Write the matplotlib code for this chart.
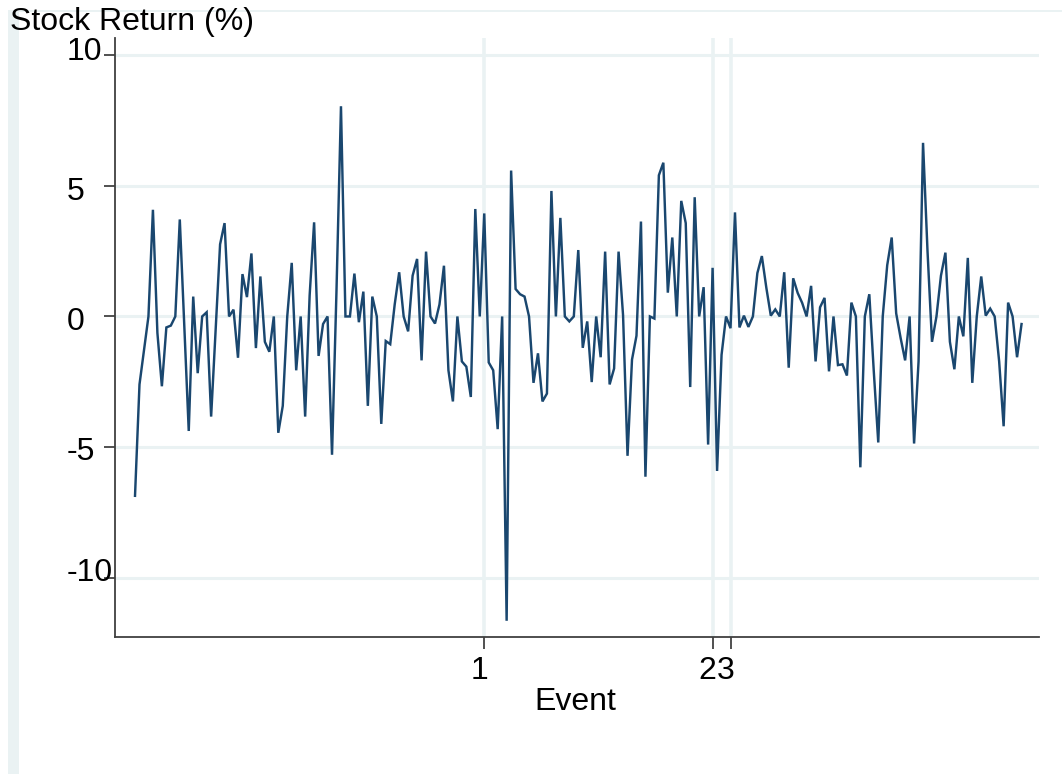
import matplotlib
matplotlib.use("Agg")
import matplotlib.pyplot as plt
import matplotlib.transforms as mtransforms
from matplotlib.patches import Rectangle
import numpy as np

# ---------------- data ----------------
returns = [
    -6.86, -2.6, -1.3, 0, 4.08, -0.63, -2.67, -0.42, -0.35, 0,
    3.71, -0.3, -4.38, 0.76, -2.17, 0, 0.16, -3.83, -0.5, 2.76,
    3.57, 0, 0.26, -1.58, 1.62, 0.74, 2.41, -1.21, 1.53, -0.97,
    -1.35, 0, -4.45, -3.42, 0, 2.05, -2.06, 0, -3.83, 0.8,
    3.6, -1.51, -0.29, 0, -5.29, 1.0, 8.04, 0, 0, 1.64,
    -0.22, 0.95, -3.42, 0.76, 0, -4.11, -0.94, -1.06, 0.46, 1.69,
    0, -0.57, 1.56, 2.2, -1.68, 2.48, 0, -0.27, 0.46, 1.94,
    -2.06, -3.25, 0, -1.72, -1.92, -3.08, 4.11, 0, 3.94, -1.76,
    -2.06, -4.31, 0, -11.64, 5.58, 1.05, 0.85, 0.76, 0, -2.54,
    -1.41, -3.25, -2.95, 4.8, 0, 3.77, 0, -0.19, 0, 2.54,
    -1.2, -0.19, -2.51, 0, -1.56, 2.48, -2.6, -1.99, 2.48, 0.05,
    -5.33, -1.65, -0.74, 3.63, -6.13, 0, -0.08, 5.4, 5.88, 0.91,
    3.02, 0, 4.42, 3.57, -2.7, 4.56, 0, 1.12, -4.9, 1.86,
    -5.91, -1.47, 0, -0.45, 3.98, -0.42, 0.03, -0.4, 0, 1.66,
    2.31, 1.1, 0.03, 0.27, 0, 1.69, -1.96, 1.46, 0.9, 0.52,
    0, 1.17, -1.72, 0.35, 0.71, -2.1, 0, -1.86, -1.83, -2.26,
    0.53, 0, -5.77, 0, 0.85, -2.1, -4.82, 0, 1.96, 3.02,
    0.12, -0.83, -1.68, 0, -4.86, -1.72, 6.64, 2.5, -0.97, 0,
    1.56, 2.44, -0.97, -2.02, 0, -0.76, 2.24, -2.54, 0, 1.53,
    0.03, 0.3, 0, -1.72, -4.2, 0.53, 0, -1.56, -0.29,
]
days = list(range(len(returns)))
event_days = [78, 129, 133]
event_labels = ["1", "2", "3"]
y_ticks = [10, 5, 0, -5, -10]
y_tick_labels = ["10", "5", "0", "-5", "-10"]
y_title = "Stock Return (%)"
x_title = "Event"

# ---------------- style ----------------
W, H = 1062, 774
LINE = "#1a476f"
GRID = "#eaf2f3"
AXC = "#404040"
FONT = "Liberation Sans"
FS = 23

plt.rcParams["font.family"] = [FONT, "DejaVu Sans"]

fig = plt.figure(figsize=(W / 100, H / 100), dpi=100)
fig.patch.set_facecolor("white")

# outer light frame (left strip and top line)
fig.patches.append(Rectangle((8 / W, 0), 11 / W, (H - 10) / H,
                             transform=fig.transFigure, facecolor=GRID,
                             edgecolor="none", zorder=0))
fig.patches.append(Rectangle((8 / W, (H - 12) / H), (W - 8) / W, 2 / H,
                             transform=fig.transFigure, facecolor=GRID,
                             edgecolor="none", zorder=0))

left, right, top, bottom = 115, 1039, 38, 637
ax = fig.add_axes([left / W, (H - bottom) / H, (right - left) / W, (bottom - top) / H])
ax.set_facecolor("none")

ax.set_xlim(-4.47, 201.9)
ax.set_ylim(-12.26, 10.65)

for v in y_ticks:
    ax.axhline(v, color=GRID, lw=2.2, zorder=1)
for d in event_days:
    ax.axvline(d, color=GRID, lw=2.6, zorder=1)

ax.plot(days, returns, color=LINE, lw=1.75, zorder=3, solid_joinstyle="miter")

for s in ["top", "right"]:
    ax.spines[s].set_visible(False)
for s in ["left", "bottom"]:
    ax.spines[s].set_color(AXC)
    ax.spines[s].set_linewidth(1.3)

# y ticks: marks only, labels drawn manually (left aligned like the reference)
ax.set_yticks(y_ticks)
ax.set_yticklabels([])
ax.tick_params(axis="y", direction="out", length=8, width=1.1, color="#202020")
y_label_offsets = {"10": 5, "5": 14, "0": 14, "-5": 13, "-10": 3}
for v, lab in zip(y_ticks, y_tick_labels):
    tr = mtransforms.blended_transform_factory(fig.transFigure, ax.transData)
    off = mtransforms.ScaledTranslation(0, -y_label_offsets[lab] / 100, fig.dpi_scale_trans)
    ax.text(67 / W, v, lab, transform=tr + off, ha="left", va="baseline",
            fontsize=FS, color="black", clip_on=False)

# x ticks
ax.set_xticks(event_days)
ax.set_xticklabels(event_labels, fontsize=FS)
ax.tick_params(axis="x", direction="out", length=8.5, width=1.1, color="#202020", pad=5)
shift = mtransforms.ScaledTranslation(-5 / 100, 0, fig.dpi_scale_trans)
for lbl in ax.get_xticklabels():
    lbl.set_transform(lbl.get_transform() + shift)

# titles
fig.text(10 / W, (H - 30) / H, y_title, ha="left", va="baseline", fontsize=FS)
fig.text(575 / W, (H - 710) / H, x_title, ha="center", va="baseline", fontsize=FS)

fig.savefig("out.png", dpi=100, facecolor="white")
